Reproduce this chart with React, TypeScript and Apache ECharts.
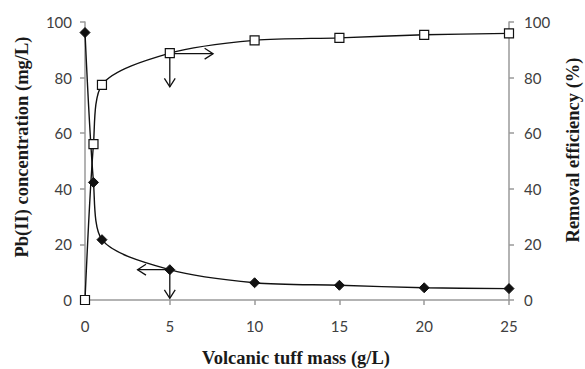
import React, { useEffect, useRef } from "react";
import * as echarts from "echarts";

const massX = [0, 0.5, 1, 5, 10, 15, 20, 25];
const pbConc = [96.2, 42.3, 21.7, 10.9, 6.2, 5.3, 4.4, 4.1];
const removal = [0, 56.1, 77.4, 88.8, 93.4, 94.3, 95.4, 95.9];
const xTicks = [0, 5, 10, 15, 20, 25];
const yTicks = [0, 20, 40, 60, 80, 100];
// arrows: [x1, y1, x2, y2]
const removalArrows = [
  [5, 88.6, 7.55, 88.6],
  [5, 88.6, 5, 76.7],
];
const pbArrows = [
  [5, 10.9, 3.1, 10.9],
  [5, 10.9, 5, 0.6],
];

const arrowRender = (params: any, api: any) => {
  const p1 = api.coord([api.value(0), api.value(1)]);
  const p2 = api.coord([api.value(2), api.value(3)]);
  const ang = Math.atan2(p2[1] - p1[1], p2[0] - p1[0]);
  const L = 10;
  const spread = Math.PI / 5.5;
  const a1 = [p2[0] - L * Math.cos(ang - spread), p2[1] - L * Math.sin(ang - spread)];
  const a2 = [p2[0] - L * Math.cos(ang + spread), p2[1] - L * Math.sin(ang + spread)];
  const style = { stroke: "#111", lineWidth: 1.3, fill: null };
  return {
    type: "group",
    children: [
      { type: "line", shape: { x1: p1[0], y1: p1[1], x2: p2[0], y2: p2[1] }, style },
      { type: "polyline", shape: { points: [a1, p2, a2] }, style },
    ],
  };
};

export default function App() {
  const ref = useRef<HTMLDivElement>(null);
  useEffect(() => {
    if (!ref.current) return;
    const chart = echarts.init(ref.current, undefined, { renderer: "svg" });
    const axisLine = { show: true, lineStyle: { color: "#9a9a9a", width: 1.5 } };
    const axisTick = { show: true, length: 5, lineStyle: { color: "#9a9a9a", width: 1.5 } };
    const labelStyle = { color: "#404040", fontFamily: "Lato", fontSize: 15 };
    const titleFont = { fontFamily: "Liberation Serif", fontWeight: "bold", fontSize: 18.5, fill: "#1a1a1a" };
    chart.setOption({
      animation: false,
      backgroundColor: "#ffffff",
      grid: { left: 85, right: 76, top: 22, bottom: 69 },
      xAxis: {
        type: "value",
        min: 0,
        max: 25,
        interval: 5,
        axisLine,
        axisTick,
        splitLine: { show: false },
        axisLabel: { ...labelStyle, margin: 18, formatter: (v: number) => (xTicks.includes(v) ? String(v) : "") },
      },
      yAxis: [
        {
          type: "value",
          min: 0,
          max: 100,
          interval: 20,
          position: "left",
          axisLine,
          axisTick,
          splitLine: { show: false },
          axisLabel: { ...labelStyle, margin: 13, formatter: (v: number) => (yTicks.includes(v) ? String(v) : "") },
        },
        {
          type: "value",
          min: 0,
          max: 100,
          interval: 20,
          position: "right",
          axisLine,
          axisTick,
          splitLine: { show: false },
          axisLabel: { ...labelStyle, margin: 15, formatter: (v: number) => (yTicks.includes(v) ? String(v) : "") },
        },
      ],
      series: [
        {
          type: "line",
          yAxisIndex: 0,
          data: massX.map((x, i) => [x, pbConc[i]]),
          smooth: 0.3,
          symbol: "diamond",
          symbolSize: 10,
          itemStyle: { color: "#111", borderColor: "#111" },
          lineStyle: { color: "#111", width: 1.4 },
          z: 3,
        },
        {
          type: "line",
          yAxisIndex: 1,
          data: massX.map((x, i) => [x, removal[i]]),
          smooth: 0.3,
          symbol: "rect",
          symbolSize: 9,
          itemStyle: { color: "#ffffff", borderColor: "#111", borderWidth: 1.2 },
          lineStyle: { color: "#111", width: 1.4 },
          z: 4,
        },
        {
          type: "custom",
          yAxisIndex: 1,
          data: removalArrows,
          encode: { x: [0, 2], y: [1, 3] },
          renderItem: arrowRender,
          z: 2,
        },
        {
          type: "custom",
          yAxisIndex: 0,
          data: pbArrows,
          encode: { x: [0, 2], y: [1, 3] },
          renderItem: arrowRender,
          z: 2,
        },
      ],
      graphic: [
        {
          type: "text",
          x: 22,
          y: 147,
          rotation: Math.PI / 2,
          style: { ...titleFont, text: "Pb(II) concentration (mg/L)", align: "center", verticalAlign: "middle" },
        },
        {
          type: "text",
          x: 573,
          y: 150,
          rotation: Math.PI / 2,
          style: { ...titleFont, text: "Removal efficiency (%)", align: "center", verticalAlign: "middle" },
        },
        {
          type: "text",
          x: 296,
          y: 358,
          style: { ...titleFont, text: "Volcanic tuff mass (g/L)", align: "center", verticalAlign: "middle" },
        },
      ],
    });
    return () => chart.dispose();
  }, []);
  return (
    <div
      ref={ref}
      style={{ position: "absolute", left: 0, top: 0, width: 585, height: 369, background: "#fff" }}
    />
  );
}
